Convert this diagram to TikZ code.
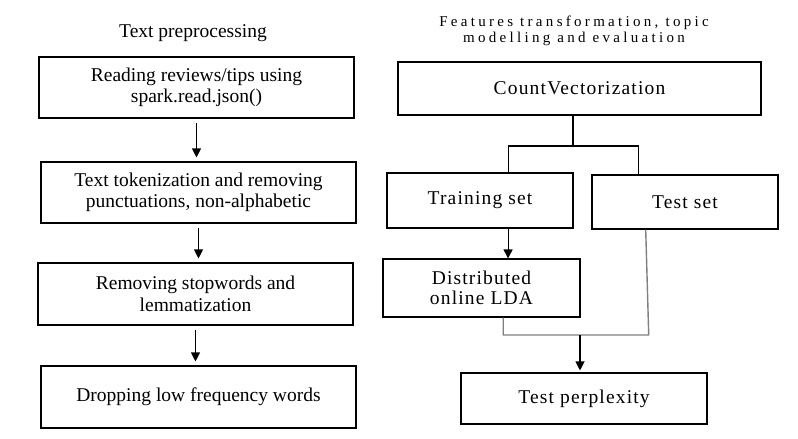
\documentclass[tikz,border=0pt]{standalone}
\usepackage{fontspec}
\setmainfont{Liberation Serif}
\newfontfamily\spacedfont[LetterSpace=6]{Liberation Serif}
\newfontfamily\widefont[LetterSpace=22]{Liberation Serif}
\usetikzlibrary{arrows.meta,calc}

\begin{document}
\begin{tikzpicture}[x=1pt,y=-1pt,
  box/.style={draw,line width=1.1pt,align=center,inner sep=0pt},
  rbox/.style={box,font=\spacedfont\fontsize{19.5}{19.5}\selectfont},
  flow/.style={-{Triangle[width=9pt,length=9pt]},line width=1.1pt},
  link/.style={line width=1.1pt},
  faint/.style={line width=1.4pt,black!50},
  every node/.style={font=\fontsize{19.5}{21.5}\selectfont}]
\useasboundingbox (0,0) rectangle (798,439);
% text preprocessing column
\node (pretitle) at (193,33) {Text preprocessing};
\node[box,minimum width=315,minimum height=61] (read) at (196.5,87.5)
  {Reading reviews/tips using\\spark.read.json()};
\node[box,minimum width=315,minimum height=61] (token) at (198.5,192.5)
  {Text tokenization and removing\\punctuations, non-alphabetic};
\node[box,minimum width=315,minimum height=62] (stop) at (195.5,294)
  {Removing stopwords and\\lemmatization};
\node[box,minimum width=315,minimum height=62] (drop) at (198.5,397)
  {Dropping low frequency words};
\foreach \a/\b in {read/token,token/stop,stop/drop}
  \draw[flow,shorten <=4pt,shorten >=4pt] (\a.south) -- (\a.south |- \b.north);
% topic modelling column
\node[align=center,font=\widefont\fontsize{15}{16}\selectfont] (toptitle) at (574,31)
  {Features transformation, topic\\modelling and evaluation};
\node[rbox,minimum width=363,minimum height=53] (count) at (579.5,88.5) {CountVectorization};
\node[rbox,minimum width=186,minimum height=55] (train) at (480,200.5) {Training set};
\node[rbox,minimum width=186,minimum height=54] (test) at (685,202) {Test set};
\node[rbox,minimum width=197,minimum height=58] (lda) at (481.5,288) {Distributed\\online LDA};
\node[rbox,minimum width=246,minimum height=51] (perp) at (584,398.5) {Test perplexity};
\coordinate (split) at (573,146);
\coordinate (merge) at (580,335);
\coordinate (tdown) at ($(train.south west)!0.65!(train.south east)$);
\coordinate (ldown) at ($(lda.south west)!0.61!(lda.south east)$);
\coordinate (sdown) at ($(test.south west)!0.29!(test.south east)$);
\draw[line width=2pt] (count.south -| split) -- (split);
\draw[link] ($(train.north west)!0.65!(train.north east)$) |- (split)
  -| ($(test.north west)!0.25!(test.north east)$);
\draw[flow] (tdown) -- (tdown |- lda.north);
\draw[faint] (ldown) |- ([xshift=3pt]sdown |- merge) -- (sdown);
\draw[flow,shorten >=2pt] (merge) -- (merge |- perp.north);
\end{tikzpicture}
\end{document}
